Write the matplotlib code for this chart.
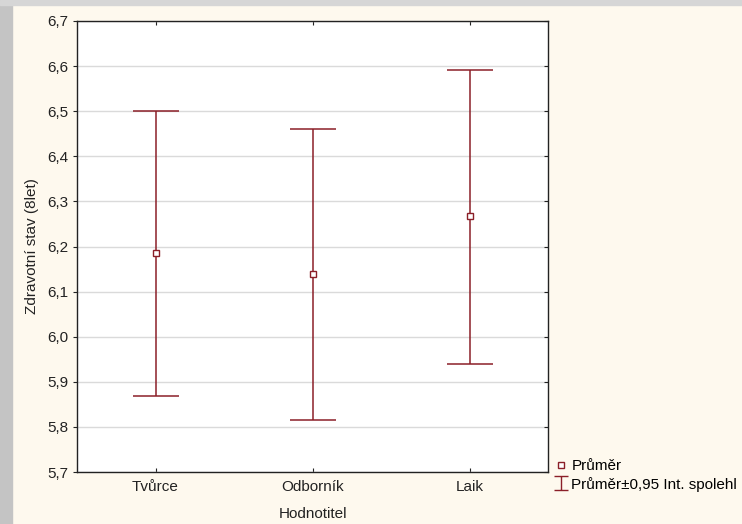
import numpy as np
import matplotlib.pyplot as plt
from matplotlib.lines import Line2D
from matplotlib.path import Path
from matplotlib.patches import Rectangle
from matplotlib.ticker import FuncFormatter, MultipleLocator

plt.rcParams["font.family"] = ["Liberation Sans", "DejaVu Sans"]

categories = ["Tvůrce", "Odborník", "Laik"]
means = [6.186, 6.139, 6.268]
upper = [6.501, 6.461, 6.592]
lower = [5.869, 5.816, 5.940]
legend_labels = ["Průměr", "Průměr±0,95 Int. spolehl"]

red = "#8b1f28"

fig = plt.figure(figsize=(7.42, 5.24), dpi=100, facecolor="#fef9ee")
# grey photo strip on left / top edge of the original screenshot
fig.patches.append(Rectangle((0, 0), 12 / 742, 1, transform=fig.transFigure,
                             color="#c4c4c4", zorder=-1))
fig.patches.append(Rectangle((0, 1 - 5 / 524), 1, 5 / 524, transform=fig.transFigure,
                             color="#d6d6d6", zorder=-1))

ax = fig.add_axes([77 / 742, 1 - 472 / 524, 471 / 742, 451 / 524])
ax.set_facecolor("white")

x = np.arange(len(categories))
m = np.array(means)
yerr = [m - np.array(lower), np.array(upper) - m]
ax.errorbar(x, m, yerr=yerr, fmt="none", ecolor=red, elinewidth=1.1,
            capsize=16.5, capthick=1.1, zorder=3)
ax.plot(x, m, ls="none", marker="s", ms=5, mfc="white", mec=red, mew=1, zorder=4)

ax.set_xlim(-0.5, 2.5)
ax.set_ylim(5.7, 6.7)
ax.set_xticks(x)
ax.set_xticklabels(categories)
ax.yaxis.set_major_locator(MultipleLocator(0.1))
ax.yaxis.set_major_formatter(FuncFormatter(lambda v, p: f"{v:.1f}".replace(".", ",")))
ax.grid(axis="y", color="#dadada", lw=1)
ax.set_axisbelow(True)

for s in ax.spines.values():
    s.set_color("#222222")
    s.set_linewidth(1)

ax.tick_params(axis="y", left=True, right=True, direction="out", length=3,
               labelsize=11, colors="#222222", pad=3)
ax.tick_params(axis="x", bottom=True, top=True, direction="in", length=3,
               labelsize=11, colors="#222222", pad=6)
for t in ax.yaxis.get_ticklines()[1::2]:
    t.set_marker(0)  # right side ticks point inward

ax.set_xlabel("Hodnotitel", fontsize=11, color="#222222", labelpad=9)
ax.set_ylabel("Zdravotní stav (8let)", fontsize=11, color="#222222", labelpad=6)

ibeam = Path([(-1, 1), (1, 1), (0, 1), (0, -1), (-1, -1), (1, -1)],
             [Path.MOVETO, Path.LINETO, Path.MOVETO, Path.LINETO, Path.MOVETO, Path.LINETO])
handles = [
    Line2D([], [], ls="none", marker="s", ms=5, mfc="white", mec=red, mew=1),
    Line2D([], [], ls="none", marker=ibeam, ms=10, mec=red, mew=1),
]
fig.legend(handles, legend_labels,
           loc="upper left", bbox_to_anchor=(553 / 742, 1 - 459 / 524),
           frameon=False, fontsize=11, handlelength=1.0, handletextpad=0.2,
           labelspacing=0.25, borderpad=0, borderaxespad=0)

fig.savefig("out.png", dpi=100, facecolor=fig.get_facecolor())
